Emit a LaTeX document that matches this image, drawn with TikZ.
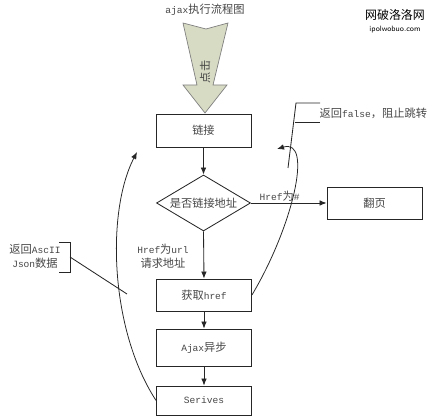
\documentclass[tikz,border=0pt]{standalone}
\usepackage{fontspec}
\setmainfont{Noto Sans CJK SC}
\newfontfamily\enfont[Scale=0.85]{Liberation Mono}
\usetikzlibrary{shapes.geometric,arrows.meta}

\definecolor{clickfill}{RGB}{216,219,196}
\definecolor{inkgray}{RGB}{70,70,70}

\tikzset{
    stepbox/.style={draw=black!85, line width=0.6pt, minimum width=2.375cm, inner sep=1pt,
        text=inkgray, font=\fontsize{8}{10}\selectfont},
    checkbox/.style={draw=black!85, line width=0.6pt, shape=diamond, aspect=1.68, inner sep=0pt,
        minimum width=2.35cm, minimum height=1.4cm, text=inkgray, font=\fontsize{8}{10}\selectfont},
    flow/.style={draw=black!85, line width=0.6pt, -{Latex[length=5pt,width=4pt]}},
    note/.style={text=inkgray, font=\fontsize{8}{10}\selectfont, inner sep=1pt, align=center},
    callout/.style={draw=black!85, line width=0.6pt}
}

\begin{document}
\begin{tikzpicture}[x=0.025cm, y=-0.025cm]
    \useasboundingbox (0,0) rectangle (443,418);

    % 1. 标题与水印
    \node[note] (title) at (205,10) {{\enfont ajax}执行流程图};
    \node[note, font=\fontsize{8.5}{10}\selectfont, text=black] (mark) at (395,15) {网破洛洛网};
    \node[note, font=\fontsize{5.5}{6}\selectfont\sffamily, text=black] (markurl) at (395,30) {ipolwobuo.com};

    % 2. 点击箭头
    \draw[draw=black!50, line width=0.5pt, fill=clickfill]
        (183,23) -- (206,29) -- (228,23) -- (213,85) -- (227,85) -- (205,113)
        -- (183,85) -- (197,85) -- cycle;
    \node[note, rotate=90] (click) at (205,72) {点击};

    % 3. 流程节点
    \node[stepbox, minimum height=0.825cm] (link) at (203.5,130.5) {链接};
    \node[checkbox] (check) at (203.5,203) {是否链接地址};
    \node[stepbox, minimum height=0.8cm] (page) at (374.5,203) {翻页};
    \node[stepbox, minimum height=0.8cm] (fetch) at (204,295) {获取{\enfont href}};
    \node[stepbox, minimum height=0.925cm] (ajax) at (204,347.5) {{\enfont Ajax}异步};
    \node[stepbox, minimum height=0.725cm] (serv) at (204,400.5) {{\enfont Serives}};

    % 4. 连线
    \draw[flow] (link) -- (check.north);
    \draw[flow] (check.east) -- node[note, above, pos=0.38] (hash) {{\enfont Href}为{\enfont \#}} (page.west);
    \draw[flow] (check.south) -- (fetch.north);
    \node[note] (urllbl) at (163,256) {{\enfont Href}为{\enfont url}\\请求地址};
    \draw[flow] (fetch) -- (ajax);
    \draw[flow] (ajax) -- (serv);

    % 5. 返回的弧线
    \coordinate (ltip) at (137,152);
    \coordinate (rtip) at (277,149);
    \draw[flow, line width=0.55pt] (serv.west) .. controls (110,330) and (106,212) .. (ltip);
    \draw[flow, line width=0.55pt] (fetch.east) .. controls (292,228) and (314,138) .. (rtip);

    % 6. 说明文字
    \node[note, anchor=west] (falsenote) at (318,113) {返回{\enfont false}，阻止跳转};
    \draw[callout] (320,103) -- (296,103) -- (288,168);
    \draw[callout] (295.3,122) -- (320,122);
    \node[note] (jsonnote) at (35,256) {返回{\enfont AscII}\\{\enfont Json}数据};
    \coordinate (jsonend) at (127,294);
    \draw[callout] (59,242) -- (70,242) -- (70,272) -- (59,272);
    \draw[callout] (70,257) -- (jsonend);
\end{tikzpicture}
\end{document}
